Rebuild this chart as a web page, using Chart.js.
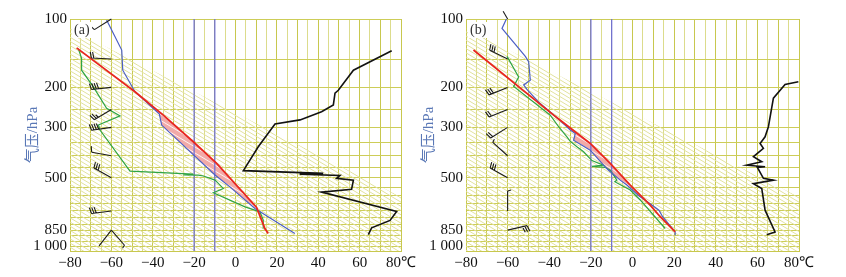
<!DOCTYPE html>
<html><head><meta charset="utf-8">
<script src="https://cdn.jsdelivr.net/npm/chart.js@4.4.1/dist/chart.umd.min.js"></script>
<style>
html,body{margin:0;padding:0;background:#fff;width:846px;height:277px;overflow:hidden;}
#ca{position:absolute;left:0;top:0;}
#cb{position:absolute;left:420px;top:0;}
</style></head><body>
<canvas id="ca" width="430" height="277"></canvas>
<canvas id="cb" width="426" height="277"></canvas>
<script>
// ---------- axes ----------
const xTickLabels = [-80,-60,-40,-20,0,20,40,60,80];
const yGridLevels = [100,150,200,250,300,350,400,450,500,550,600,650,700,750,800,850,900,950,1000,1050];
const yTickLabels = {100:'100',200:'200',300:'300',500:'500',850:'850',1000:'1 000'};
const isotherms = [-20,-10];

// ---------- panel (a) ----------
const aRedT   = [-76.8,-48.6,-34.9,-20.4,-9.1,10.2,12.6,14.2,15.8];
const aRedP   = [134,209,265,347,432,675,768,836,879];
const aBlueT  = [-62.3,-55,-54.5,-48.6,-36.8,-35.7,-9.9,-2.7,9.4,28.7];
const aBlueP  = [101,137,168,209,262,293,486,548,682,879];
const aGreenT = [-76,-74.4,-74.4,-68.7,-62.3,-55.8,-66.3,-65.5,-51,-20.4,-25.2,-18,-15.5,-9.9,-5.9,-10.7,4.6,11.8,13.4,13.4];
const aGreenP = [135,149,168,199,247,267,293,308,467,482,485,487,491,512,557,582,671,706,767,836];
const aBlackT = [75.5,57,49.7,48.1,47.3,41.6,31.2,19.1,11,3.8,42.4,31,50.5,48.9,57,56.1,41.6,77.9,74.7,65.8,64.2];
const aBlackP = [138,168,206,212,239,256,278,290,365,465,478,482,488,503,512,562,578,704,770,830,890];
const aBarbP   = [100,150,200,250,300,400,500,700,850,850];
const aBarbDir = [238,273,264,239,262,280,299,263,218,139];
const aBarbSpd = [2,8,16,10,16,4,12,12,0,2];

// ---------- panel (b) ----------
const bRedT   = [-76.4,-37.9,-34.7,-20.3,-10.7,-1.1,8.5,13.3,20.5];
const bRedP   = [137,265,279,353,432,538,660,742,866];
const bBlueT  = [-60.6,-62.7,-51.5,-49.9,-49.1,-52.3,-50.5,-44.5,-34.9,-29.9,-27.5,-28.3,-20.3,-13.9,-11.5,-5.9,-2.7,3,9.5,12.7,14.5,20.5,20.5];
const bBlueP  = [100,110,146,154,186,195,205,235,279,308,319,342,378,440,463,512,538,600,660,694,742,866,895];
const bGreenT = [-60.3,-54.7,-57.1,-39.5,-35.5,-31.5,-30,-26.7,-23.5,-19.5,-14,-19.5,-13,-10.7,-7.5,-8.5,-1.1,3.7,15.7];
const bGreenP = [146,180,198,265,298,330,345,365,384,420,440,445,450,463,512,520,566,626,836];
const bBlackT = [79.7,73.3,67.7,65.3,63.7,61.3,62.9,58.1,62.1,54.9,63.7,60,62.9,67.7,58.1,62.1,63.7,68.5,64.5];
const bBlackP = [189,194,223,298,330,353,371,404,425,440,447,450,503,512,531,557,694,866,890];
const bBarbP   = [100,150,200,250,300,400,500,700,850];
const bBarbDir = [330,296,248,248,238,312,299,0,77];
const bBarbSpd = [0,12,12,8,8,2,12,2,12];
const bBarbLen = [9,20,20,20,20,20,20,20,20];

// ---------- helpers ----------
function pts(T,P){return T.map((t,i)=>({x:t,y:P[i]}));}
function cape(rT,rP,bT,bP,pTop,pBot){
  const r = pts(rT,rP).filter(q=>q.y>=pTop&&q.y<=pBot);
  const b = pts(bT,bP).filter(q=>q.y>=pTop&&q.y<=pBot).reverse();
  return r.concat(b);
}
function pinkPattern(){
  const c=document.createElement('canvas'); c.width=10; c.height=6;
  const g=c.getContext('2d');
  g.fillStyle='#f2aaa8'; g.fillRect(0,0,10,6);
  g.strokeStyle='rgba(255,255,255,0.85)'; g.lineWidth=1;
  g.beginPath(); g.moveTo(0,0); g.lineTo(10,6); g.moveTo(-10,0); g.lineTo(10,12); g.moveTo(0,-6); g.lineTo(20,6); g.stroke();
  return g.createPattern(c,'repeat');
}

const hatchPlugin = {
  id:'hatch',
  beforeDatasetsDraw(chart,args,o){
    const {ctx, chartArea:{left,right,top,bottom}, scales:{x,y}} = chart;
    const x0=x.getPixelForValue(o.t0), y0=y.getPixelForValue(o.p0);
    const x1=x.getPixelForValue(o.t1), y1=y.getPixelForValue(o.p1);
    const m=(y1-y0)/(x1-x0);
    const yl=y0+m*(left-x0), yr=y0+m*(right-x0);
    ctx.save();
    ctx.beginPath(); ctx.rect(left,top,right-left,bottom-top); ctx.clip();
    ctx.beginPath(); ctx.moveTo(left,yl); ctx.lineTo(right,yr); ctx.lineTo(right,bottom); ctx.lineTo(left,bottom); ctx.closePath(); ctx.clip();
    ctx.strokeStyle=o.color; ctx.lineWidth=1;
    ctx.beginPath();
    const w=right-left;
    for(let c=top-o.slope*w-10;c<bottom+10;c+=o.gap){
      ctx.moveTo(left,c); ctx.lineTo(right,c+o.slope*w);
    }
    ctx.stroke();
    ctx.restore();
  }
};

const barbPlugin = {
  id:'barbs',
  afterDatasetsDraw(chart,args,o){
    const {ctx, scales:{x,y}} = chart;
    ctx.save(); ctx.strokeStyle='#1a1a1a'; ctx.lineWidth=1.1;
    o.p.forEach((p,i)=>{
      const bx=x.getPixelForValue(o.t), by=y.getPixelForValue(p);
      const a=o.dir[i]*Math.PI/180;
      const ux=Math.sin(a), uy=-Math.cos(a);
      const L=o.len?o.len[i]:20;
      const ex=bx+ux*L, ey=by+uy*L;
      ctx.beginPath(); ctx.moveTo(bx,by); ctx.lineTo(ex,ey);
      const px=-uy, py=ux;
      let s=o.spd[i], k=0;
      while(s>=4){const sx=ex-ux*k*2.4, sy=ey-uy*k*2.4; ctx.moveTo(sx,sy); ctx.lineTo(sx+px*6+ux*1.5, sy+py*6+uy*1.5); s-=4; k++;}
      if(s>=2){const sx=ex-ux*k*2.4, sy=ey-uy*k*2.4; ctx.moveTo(sx,sy); ctx.lineTo(sx+px*3.5+ux, sy+py*3.5+uy);}
      ctx.stroke();
    });
    ctx.restore();
  }
};

const tagPlugin = {
  id:'tag',
  afterDatasetsDraw(chart,args,o){
    const {ctx, chartArea:{left,top}} = chart;
    ctx.save();
    ctx.fillStyle='#fff'; ctx.fillRect(left+2,top+3,20,16);
    ctx.fillStyle='#333'; ctx.font='14px "Liberation Serif"'; ctx.textBaseline='middle';
    ctx.fillText(o.text,left+4,top+11);
    ctx.restore();
  }
};

function makeChart(id, d){
  const ds = [];
  ds.push({data:pts(d.redT,d.redP), borderColor:'#e8261f', borderWidth:1.8, order:1});
  ds.push({data:pts(d.blueT,d.blueP), borderColor:'#4c5fc4', borderWidth:1.2, order:2});
  ds.push({data:pts(d.greenT,d.greenP), borderColor:'#2fa444', borderWidth:1.2, order:3});
  ds.push({data:pts(d.blackT,d.blackP), borderColor:'#121212', borderWidth:1.6, order:4});
  isotherms.forEach(t=>ds.push({data:[{x:t,y:100},{x:t,y:1050}], borderColor:'#6b6bd8', borderWidth:1.2, order:5}));
  ds.push({data:d.cape, fill:'shape', backgroundColor:pinkPattern(), borderWidth:0, order:9});
  ds.forEach(s=>{s.pointRadius=0; s.tension=0; if(s.fill===undefined) s.fill=false;});
  return new Chart(document.getElementById(id), {
    type:'line',
    data:{datasets:ds},
    plugins:[hatchPlugin,barbPlugin,tagPlugin],
    options:{
      responsive:false, animation:false, devicePixelRatio:1,
      layout:{padding:{left:d.padL, right:d.padR, top:19, bottom:0}},
      plugins:{legend:{display:false}, tooltip:{enabled:false},
        hatch:{t0:-80,p0:110,t1:80,p1:607,slope:0.6,gap:4.2,color:'#e2e29e'},
        barbs:{t:-60,p:d.barbP,dir:d.barbDir,spd:d.barbSpd,len:d.barbLen},
        tag:{text:d.tag}},
      scales:{
        x:{type:'linear', min:-80, max:80,
          afterFit:ax=>{ax.height=26;},
          border:{display:true,color:'#c8c84e'},
          grid:{drawTicks:false, color:c=>(c.tick && Math.abs(c.tick.value%10)<1e-6)?'#c8c84e':'#dcdc8c'},
          ticks:{stepSize:5, autoSkip:false, maxRotation:0, minRotation:0, padding:3, color:'#111',
            font:{family:'"Liberation Serif"', size:15},
            callback:v=>xTickLabels.includes(v)?(v===80?'80\u2103':(v<0?'\u2212'+Math.abs(v):String(v))):''}},
        y:{type:'logarithmic', reverse:true, min:100, max:1050,
          afterBuildTicks:ax=>{ax.ticks=yGridLevels.map(v=>({value:v}));},
          afterFit:ax=>{ax.width=d.yW;},
          border:{display:true,color:'#c8c84e'},
          grid:{drawTicks:false, color:'#cdcd58'},
          ticks:{autoSkip:false, padding:3, color:'#111',
            font:{family:'"Liberation Serif"', size:15},
            callback:v=>yTickLabels[v]||''},
          title:{display:true, text:'气压/hPa', color:'#5a78b6', padding:{top:0,bottom:0},
            font:{family:'"Liberation Serif","Noto Sans CJK SC"', size:15}}}
      }
    }
  });
}

makeChart('ca',{redT:aRedT,redP:aRedP,blueT:aBlueT,blueP:aBlueP,greenT:aGreenT,greenP:aGreenP,
  blackT:aBlackT,blackP:aBlackP,cape:cape(aRedT,aRedP,aBlueT,aBlueP,209,682),
  barbP:aBarbP,barbDir:aBarbDir,barbSpd:aBarbSpd,barbLen:null,tag:'(a)',padL:24,yW:46,padR:29});
makeChart('cb',{redT:bRedT,redP:bRedP,blueT:bBlueT,blueP:bBlueP,greenT:bGreenT,greenP:bGreenP,
  blackT:bBlackT,blackP:bBlackP,cape:cape(bRedT,bRedP,bBlueT,bBlueP,279,540),
  barbP:bBarbP,barbDir:bBarbDir,barbSpd:bBarbSpd,barbLen:bBarbLen,tag:'(b)',padL:0,yW:46,padR:47});
</script>
</body></html>
